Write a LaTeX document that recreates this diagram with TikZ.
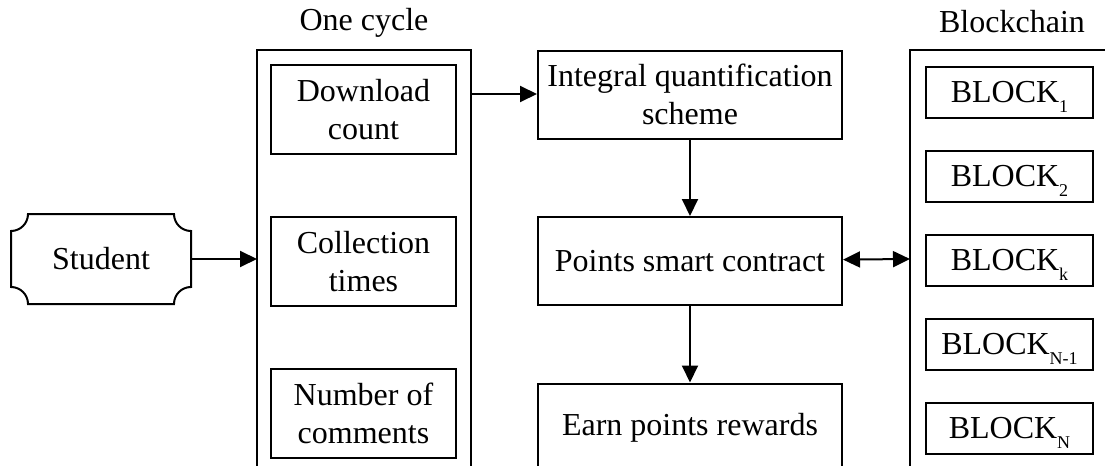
\documentclass[tikz,border=0pt]{standalone}
\usepackage{fontspec}
\setmainfont{Liberation Serif}
\usetikzlibrary{positioning, arrows.meta, calc}
\def\boxdistance{30.5pt}
\def\stepdistance{38.25pt}
\def\blockdistance{15.5pt}
\tikzstyle{arrow} = [black, -{Triangle[length=8.5pt, width=8pt]}, line width=1pt]
\tikzstyle{biarrow} = [black, {Triangle[length=8.5pt, width=8pt]}-{Triangle[length=8.5pt, width=8pt]}, line width=1pt]
\tikzstyle{frame} = [black, line width=1pt]
\tikzstyle{box} = [draw, line width=1pt, align=center, inner sep=0pt,
  font=\fontsize{16pt}{19pt}\selectfont]
\tikzstyle{itembox} = [box, minimum width=92.5pt, minimum height=44.5pt]
\tikzstyle{stepbox} = [box, minimum width=152pt, minimum height=44pt]
\tikzstyle{blockbox} = [box, minimum width=83.5pt, minimum height=25.5pt]
\newcommand{\blk}[1]{BLOCK\raisebox{-5pt}[0pt][0pt]{\fontsize{9pt}{9pt}\selectfont #1}}

\begin{document}
\begin{tikzpicture}[x=0.5pt, y=-0.5pt, node distance=\boxdistance]
    \useasboundingbox (0,0) rectangle (1105,466);

    % student
    \node[box, draw=none, minimum width=89pt, minimum height=44pt] at (101,259) (st) {Student};
    \draw[frame] ([xshift=8.5pt]st.north west) -- ([xshift=-8.5pt]st.north east)
      arc[start angle=180, end angle=270, radius=8.5pt] -- ([yshift=8.5pt]st.south east)
      arc[start angle=90, end angle=180, radius=8.5pt] -- ([xshift=8.5pt]st.south west)
      arc[start angle=0, end angle=90, radius=8.5pt] -- ([yshift=-8.5pt]st.north west)
      arc[start angle=270, end angle=360, radius=8.5pt] -- cycle;

    % one cycle
    \node[font=\fontsize{16pt}{19pt}\selectfont] at (364,23) (oct) {One cycle};
    \draw[frame] (257,470) |- (471,50) -- (471,470);
    \coordinate (ocL) at (257,259);
    \coordinate (ocR) at (471,94);
    \node[itembox] at (363.5,109.5)      (dl)  {Download\\count};
    \node[itembox, below = of dl]        (ct)  {Collection\\times};
    \node[itembox, below = of ct]        (nc)  {Number of\\comments};

    % middle column
    \node[stepbox] at (690,94.5)                      (iq)  {Integral quantification\\scheme};
    \node[stepbox, below = \stepdistance of iq]       (psc) {Points smart contract};
    \node[stepbox, below = \stepdistance of psc]      (epr) {Earn points rewards};

    % blockchain
    \node[font=\fontsize{16pt}{19pt}\selectfont] at (1012,22) (bct) {Blockchain};
    \draw[frame] (910,470) |- (1110,50);
    \coordinate (bcL) at (910,259);
    \node[blockbox] at (1009.5,92.5)                       (b1) {\blk{1}};
    \node[blockbox, below = \blockdistance of b1]           (b2) {\blk{2}};
    \node[blockbox, below = \blockdistance of b2]           (bk) {\blk{k}};
    \node[blockbox, below = \blockdistance of bk]           (bn1) {\blk{N-1}};
    \node[blockbox, below = \blockdistance of bn1]          (bn) {\blk{N}};

    % arrows
    \draw[arrow]   (st)    -- (ocL);
    \draw[arrow]   (ocR)   -- (ocR -| iq.west);
    \draw[arrow]   (iq)    -- (psc);
    \draw[arrow]   (psc)   -- (epr);
    \draw[biarrow] (psc)   -- (bcL);
\end{tikzpicture}
\end{document}
